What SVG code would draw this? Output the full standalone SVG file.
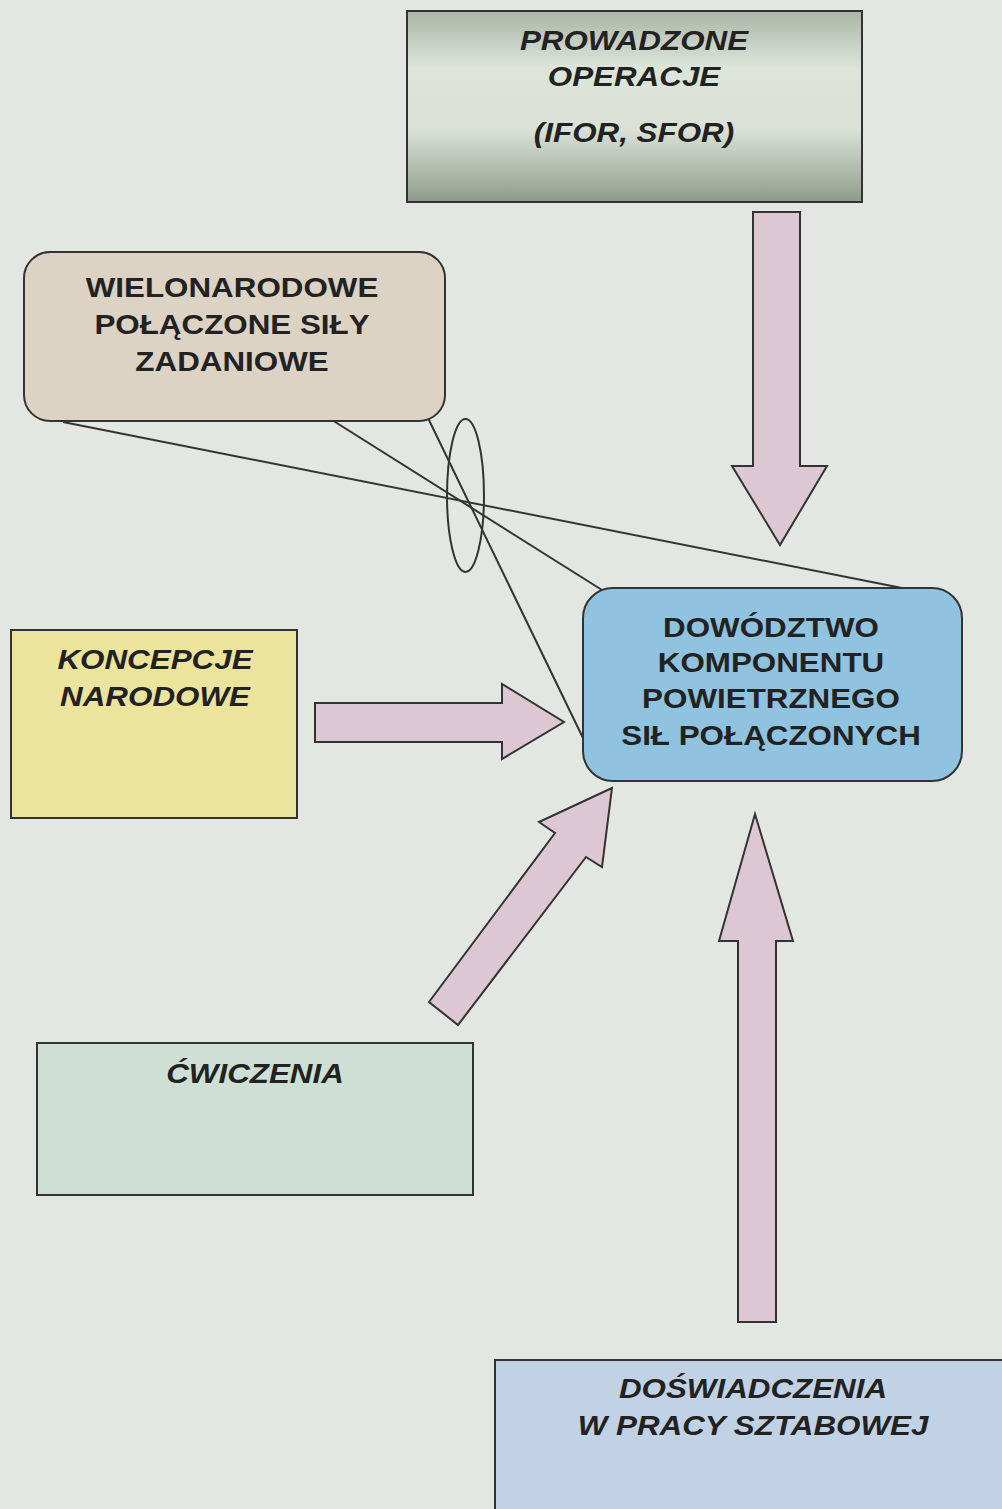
<svg xmlns="http://www.w3.org/2000/svg" width="1002" height="1509" viewBox="0 0 1002 1509">
  <defs>
    <linearGradient id="opsFill" x1="0" y1="0" x2="0" y2="1">
      <stop offset="0" stop-color="#a9b5a6"/>
      <stop offset="0.3" stop-color="#dde5da"/>
      <stop offset="0.62" stop-color="#dae2d7"/>
      <stop offset="1" stop-color="#8e9b8c"/>
    </linearGradient>
  </defs>
  <style>
    .box { stroke: #333; stroke-width: 2; }
    .lbl { font-family: "Liberation Sans", Arial, sans-serif; font-weight: bold; font-size: 28px; fill: #222; text-anchor: middle; }
    .it { font-style: italic; }
    .flow { fill: #dcc7d3; stroke: #333; stroke-width: 2; stroke-linejoin: miter; }
    .link { fill: none; stroke: #333; stroke-width: 2; }
  </style>

  <!-- page background -->
  <rect x="0" y="0" width="1002" height="1509" fill="#e2e7e2"/>

  <!-- connectors: thin links, grouping ellipse and block arrows -->
  <g id="connectors">
    <line class="link" x1="63" y1="422" x2="902" y2="588"/>
    <line class="link" x1="332" y1="420" x2="602" y2="590"/>
    <line class="link" x1="428" y1="418" x2="583" y2="738"/>
    <ellipse class="link" cx="465.5" cy="495.5" rx="18.5" ry="76.5" stroke-width="1.6"/>

    <polygon class="flow" points="753,212 800,212 800,466 827,466 780,545 732,466 753,466"/>
    <polygon class="flow" points="315,703 502,703 502,684 564,722 502,759 502,742 315,742"/>
    <polygon class="flow" points="429,1002 555,833 539,822 612,788 602,867 586,857 458,1025"/>
    <polygon class="flow" points="738,1322 738,941 719,941 755,814 793,941 776,941 776,1322"/>
  </g>

  <g id="node-operacje">
    <rect class="box" x="407" y="11" width="455" height="191" fill="url(#opsFill)"/>
    <g transform="translate(634 0) scale(1.12 1)">
      <text class="lbl it" x="0" y="50">PROWADZONE</text>
      <text class="lbl it" x="0" y="86">OPERACJE</text>
      <text class="lbl it" x="0" y="142">(IFOR, SFOR)</text>
    </g>
  </g>

  <g id="node-wielonarodowe">
    <rect class="box" x="24" y="252" width="421" height="169" rx="26" ry="26" fill="#dcd3c4"/>
    <g transform="translate(232 0) scale(1.12 1)">
      <text class="lbl" x="0" y="297">WIELONARODOWE</text>
      <text class="lbl" x="0" y="334">POŁĄCZONE SIŁY</text>
      <text class="lbl" x="0" y="371">ZADANIOWE</text>
    </g>
  </g>

  <g id="node-dowodztwo">
    <rect class="box" x="583" y="588" width="379" height="193" rx="30" ry="30" fill="#8fc3df"/>
    <g transform="translate(771 0) scale(1.12 1)">
      <text class="lbl" x="0" y="637">DOWÓDZTWO</text>
      <text class="lbl" x="0" y="672">KOMPONENTU</text>
      <text class="lbl" x="0" y="708">POWIETRZNEGO</text>
      <text class="lbl" x="0" y="745">SIŁ POŁĄCZONYCH</text>
    </g>
  </g>

  <g id="node-koncepcje">
    <rect class="box" x="11" y="630" width="286" height="188" fill="#ece49d"/>
    <g transform="translate(155 0) scale(1.12 1)">
      <text class="lbl it" x="0" y="669">KONCEPCJE</text>
      <text class="lbl it" x="0" y="706">NARODOWE</text>
    </g>
  </g>

  <g id="node-cwiczenia">
    <rect class="box" x="37" y="1043" width="436" height="152" fill="#cee0d3"/>
    <g transform="translate(255 0) scale(1.12 1)">
      <text class="lbl it" x="0" y="1083">ĆWICZENIA</text>
    </g>
  </g>

  <g id="node-doswiadczenia">
    <rect class="box" x="495" y="1360" width="530" height="170" fill="#c1d2e4"/>
    <g transform="translate(753 0) scale(1.12 1)">
      <text class="lbl it" x="0" y="1398">DOŚWIADCZENIA</text>
      <text class="lbl it" x="0" y="1435">W PRACY SZTABOWEJ</text>
    </g>
  </g>
</svg>
